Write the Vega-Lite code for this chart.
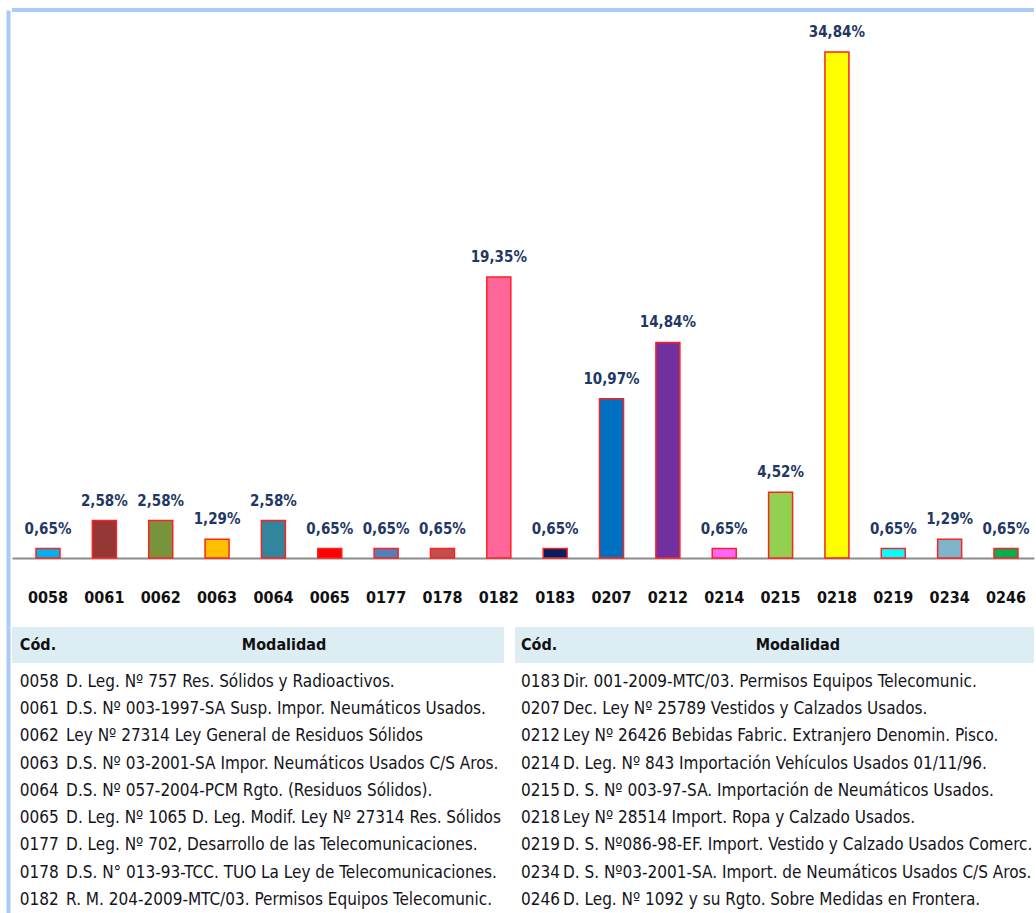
{
  "$schema": "https://vega.github.io/schema/vega-lite/v6.json",
  "padding": {"left": 8, "top": 8, "right": 0, "bottom": 0},
  "background": "white",
  "spacing": 0,
  "bounds": "flush",
  "config": {
    "view": {"stroke": null},
    "font": "DejaVu Sans Condensed, DejaVu Sans, sans-serif"
  },
  "datasets": {
    "bars": [
      {"code": "0058", "pct": 0.65, "label": "0,65%"},
      {"code": "0061", "pct": 2.58, "label": "2,58%"},
      {"code": "0062", "pct": 2.58, "label": "2,58%"},
      {"code": "0063", "pct": 1.29, "label": "1,29%"},
      {"code": "0064", "pct": 2.58, "label": "2,58%"},
      {"code": "0065", "pct": 0.65, "label": "0,65%"},
      {"code": "0177", "pct": 0.65, "label": "0,65%"},
      {"code": "0178", "pct": 0.65, "label": "0,65%"},
      {"code": "0182", "pct": 19.35, "label": "19,35%"},
      {"code": "0183", "pct": 0.65, "label": "0,65%"},
      {"code": "0207", "pct": 10.97, "label": "10,97%"},
      {"code": "0212", "pct": 14.84, "label": "14,84%"},
      {"code": "0214", "pct": 0.65, "label": "0,65%"},
      {"code": "0215", "pct": 4.52, "label": "4,52%"},
      {"code": "0218", "pct": 34.84, "label": "34,84%"},
      {"code": "0219", "pct": 0.65, "label": "0,65%"},
      {"code": "0234", "pct": 1.29, "label": "1,29%"},
      {"code": "0246", "pct": 0.65, "label": "0,65%"}
    ],
    "left": [
      {"row": 1, "code": "0058", "desc": "D. Leg. Nº 757 Res. Sólidos y Radioactivos."},
      {"row": 2, "code": "0061", "desc": "D.S. Nº 003-1997-SA  Susp. Impor. Neumáticos Usados."},
      {"row": 3, "code": "0062", "desc": "Ley Nº 27314 Ley General de Residuos Sólidos"},
      {"row": 4, "code": "0063", "desc": "D.S. Nº 03-2001-SA Impor. Neumáticos Usados C/S Aros."},
      {"row": 5, "code": "0064", "desc": "D.S. Nº 057-2004-PCM  Rgto. (Residuos Sólidos)."},
      {"row": 6, "code": "0065", "desc": "D. Leg. Nº 1065 D. Leg. Modif. Ley Nº 27314 Res. Sólidos"},
      {"row": 7, "code": "0177", "desc": "D. Leg. Nº 702, Desarrollo de las Telecomunicaciones."},
      {"row": 8, "code": "0178", "desc": "D.S. N° 013-93-TCC. TUO La Ley de Telecomunicaciones."},
      {"row": 9, "code": "0182", "desc": "R. M. 204-2009-MTC/03. Permisos Equipos Telecomunic."}
    ],
    "right": [
      {"row": 1, "code": "0183", "desc": "Dir. 001-2009-MTC/03. Permisos Equipos Telecomunic."},
      {"row": 2, "code": "0207", "desc": "Dec. Ley Nº 25789 Vestidos y Calzados Usados."},
      {"row": 3, "code": "0212", "desc": "Ley Nº 26426 Bebidas Fabric. Extranjero Denomin. Pisco."},
      {"row": 4, "code": "0214", "desc": "D. Leg. Nº 843 Importación Vehículos Usados 01/11/96."},
      {"row": 5, "code": "0215", "desc": "D. S. Nº 003-97-SA.  Importación de Neumáticos Usados."},
      {"row": 6, "code": "0218", "desc": "Ley Nº 28514 Import. Ropa y Calzado Usados."},
      {"row": 7, "code": "0219", "desc": "D. S. Nº086-98-EF. Import. Vestido y Calzado Usados Comerc."},
      {"row": 8, "code": "0234", "desc": "D. S. Nº03-2001-SA. Import. de Neumáticos Usados C/S Aros."},
      {"row": 9, "code": "0246", "desc": "D. Leg. Nº 1092 y su Rgto. Sobre Medidas en Frontera."}
    ]
  },
  "vconcat": [
    {
      "width": 1022,
      "height": 617,
      "layer": [
        {
          "data": {"values": [{}]},
          "mark": {"type": "rule", "color": "#A9CCF4", "strokeWidth": 4},
          "encoding": {
            "y": {"datum": 37.73, "type": "quantitative", "scale": {"domain": [-4.75, 37.73], "nice": false, "zero": false},
                  "axis": {"title": null, "labels": false, "ticks": false, "grid": false, "domain": true, "domainColor": "#A9CCF4", "domainWidth": 4, "offset": 4}}
          }
        },
        {
          "data": {"name": "bars"},
          "mark": {"type": "bar", "stroke": "#FF2020", "strokeWidth": 1.5},
          "encoding": {
            "x": {
              "field": "code", "type": "nominal", "sort": null,
              "scale": {"paddingInner": 0.574, "paddingOuter": 0.355, "align": 0.6},
              "axis": {
                "title": null, "orient": "bottom", "offset": -69, "ticks": false,
                "labelPadding": 31, "labelFontSize": 16, "labelFontWeight": "bold",
                "labelColor": "#111111", "labelAngle": 0,
                "domainColor": "#8C8C8C", "domainWidth": 2
              }
            },
            "y": {
              "field": "pct", "type": "quantitative",
              "scale": {"domain": [-4.75, 37.73], "nice": false, "zero": false}
            },
            "y2": {"datum": 0},
            "color": {
              "field": "code", "type": "nominal", "legend": null,
              "scale": {
                "domain": ["0058","0061","0062","0063","0064","0065","0177","0178","0182","0183","0207","0212","0214","0215","0218","0219","0234","0246"],
                "range": ["#00B0F0","#953735","#77933C","#FFC000","#31859C","#FF0000","#4F81BD","#C0504D","#FF6699","#002060","#0070C0","#7030A0","#FF66FF","#92D050","#FFFF00","#00FFFF","#7FB5CB","#00B050"]
              }
            }
          }
        },
        {
          "data": {"name": "bars"},
          "mark": {"type": "text", "dy": -15, "baseline": "alphabetic", "fontSize": 15, "fontWeight": "bold", "color": "#1F3864"},
          "encoding": {
            "x": {"field": "code", "type": "nominal", "sort": null},
            "y": {"field": "pct", "type": "quantitative"},
            "text": {"field": "label"}
          }
        }
      ]
    },
    {
      "hconcat": [
        {
          "width": 492,
          "height": 286,
          "layer": [
            {
              "data": {"values": [{}]},
              "mark": {"type": "rect", "color": "#DCEEF3"},
              "encoding": {
                "x": {"datum": 0, "type": "quantitative", "scale": {"domain": [0, 1], "nice": false, "zero": false}, "axis": null},
                "x2": {"datum": 1},
                "y": {"datum": -1.02, "type": "quantitative", "scale": {"domain": [-1.02, 9.48], "reverse": true, "nice": false, "zero": false},
                      "axis": {"title": null, "labels": false, "ticks": false, "grid": false, "domain": true, "domainColor": "#A9CCF4", "domainWidth": 4, "offset": 4}},
                "y2": {"datum": 0.3}
              }
            },
            {
              "data": {"values": [{}]},
              "mark": {"type": "text", "text": "Cód.", "align": "left", "baseline": "middle", "fontSize": 16, "fontWeight": "bold", "color": "#111111"},
              "encoding": {"x": {"datum": 0.016, "type": "quantitative"}, "y": {"datum": -0.36, "type": "quantitative"}}
            },
            {
              "data": {"values": [{}]},
              "mark": {"type": "text", "text": "Modalidad", "align": "center", "baseline": "middle", "fontSize": 16, "fontWeight": "bold", "color": "#111111"},
              "encoding": {"x": {"datum": 0.553, "type": "quantitative"}, "y": {"datum": -0.36, "type": "quantitative"}}
            },
            {
              "data": {"name": "left"},
              "mark": {"type": "text", "align": "left", "baseline": "middle", "fontSize": 17, "color": "#141420"},
              "encoding": {"x": {"datum": 0.016, "type": "quantitative"}, "y": {"field": "row", "type": "quantitative"}, "text": {"field": "code"}}
            },
            {
              "data": {"name": "left"},
              "mark": {"type": "text", "align": "left", "baseline": "middle", "fontSize": 17, "color": "#141420"},
              "encoding": {"x": {"datum": 0.11, "type": "quantitative"}, "y": {"field": "row", "type": "quantitative"}, "text": {"field": "desc"}}
            }
          ]
        },
        {
          "width": 519,
          "height": 286,
          "layer": [
            {
              "data": {"values": [{}]},
              "mark": {"type": "rect", "color": "#DCEEF3"},
              "encoding": {
                "x": {"datum": 0, "type": "quantitative", "scale": {"domain": [0, 1], "nice": false, "zero": false}, "axis": null},
                "x2": {"datum": 1},
                "y": {"datum": -1.02, "type": "quantitative", "scale": {"domain": [-1.02, 9.48], "reverse": true, "nice": false, "zero": false}, "axis": null},
                "y2": {"datum": 0.3}
              }
            },
            {
              "data": {"values": [{}]},
              "mark": {"type": "text", "text": "Cód.", "align": "left", "baseline": "middle", "fontSize": 16, "fontWeight": "bold", "color": "#111111"},
              "encoding": {"x": {"datum": 0.0116, "type": "quantitative"}, "y": {"datum": -0.36, "type": "quantitative"}}
            },
            {
              "data": {"values": [{}]},
              "mark": {"type": "text", "text": "Modalidad", "align": "center", "baseline": "middle", "fontSize": 16, "fontWeight": "bold", "color": "#111111"},
              "encoding": {"x": {"datum": 0.545, "type": "quantitative"}, "y": {"datum": -0.36, "type": "quantitative"}}
            },
            {
              "data": {"name": "right"},
              "mark": {"type": "text", "align": "left", "baseline": "middle", "fontSize": 17, "color": "#141420"},
              "encoding": {"x": {"datum": 0.0116, "type": "quantitative"}, "y": {"field": "row", "type": "quantitative"}, "text": {"field": "code"}}
            },
            {
              "data": {"name": "right"},
              "mark": {"type": "text", "align": "left", "baseline": "middle", "fontSize": 17, "color": "#141420"},
              "encoding": {"x": {"datum": 0.0925, "type": "quantitative"}, "y": {"field": "row", "type": "quantitative"}, "text": {"field": "desc"}}
            }
          ]
        }
      ],
      "spacing": 11,
      "bounds": "flush"
    }
  ]
}
